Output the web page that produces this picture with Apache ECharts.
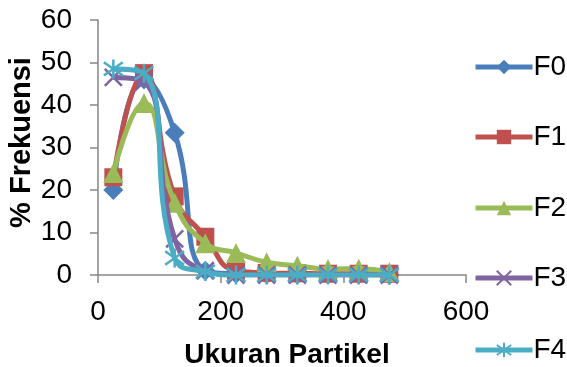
<!DOCTYPE html>
<html><head><meta charset="utf-8">
<script src="https://cdn.jsdelivr.net/npm/echarts@6/dist/echarts.min.js"></script>
<style>html,body{margin:0;padding:0;background:#fff}#c{width:567px;height:367px}</style>
</head><body><div id="c"></div>
<script>
const xValues = [25, 75, 125, 175, 225, 275, 325, 375, 425, 475];
const seriesNames = ['F0', 'F1', 'F2', 'F3', 'F4'];
const F0 = [20, 46, 33.5, 1, 0.3, 0.2, 0.1, 0.1, 0.1, 0];
const F1 = [23, 47.5, 18.5, 9, 1, 0.5, 0.4, 0.3, 0.3, 0.3];
const F2 = [24, 40.5, 17, 7.5, 5.2, 3, 2.2, 1.4, 1.5, 0.7];
const F3 = [46.5, 45.5, 8.5, 1, 0, 0, 0, 0, 0, 0];
const F4 = [48.5, 47.5, 4, 0.8, 0, 0, 0, 0, 0, 0];
const yTicks = [0, 10, 20, 30, 40, 50, 60];
const xTicks = [0, 200, 400, 600];

const values = [F0, F1, F2, F3, F4];
const colors = ['#4A7EBB', '#C0504D', '#9BBB59', '#8064A2', '#4BACC6'];
const symbols = ['diamond', 'rect', 'triangle',
  'path://M0,0L10,10M10,0L0,10',
  'path://M5,0L5,10M1.5,1.5L8.5,8.5M8.5,1.5L1.5,8.5'];
const sizes = [20, 18, 20, 17, 19];
const legendSizes = [18, 18, 18, 18, 18];
const legendTops = [53, 123, 194, 264, 336];
const font = 'Liberation Sans, Arial, sans-serif';

const series = seriesNames.map((n, i) => {
  const stroke = i >= 3;
  return {
    name: n,
    type: 'line',
    smooth: 0.5,
    data: xValues.map((x, j) => [x, values[i][j]]),
    symbol: symbols[i],
    symbolSize: sizes[i],
    lineStyle: { color: colors[i], width: 5 },
    itemStyle: stroke ? { color: colors[i], borderColor: colors[i], borderWidth: 2.5 } : { color: colors[i], borderWidth: 0 },
    z: 2 + i
  };
});

const legends = seriesNames.map((n, i) => ({
  orient: 'vertical', left: 473, top: legendTops[i], padding: 0,
  itemWidth: 57, itemHeight: legendSizes[i], itemGap: 0,
  lineStyle: { width: 5, color: colors[i] },
  textStyle: { fontSize: 28, color: '#000', fontFamily: font, padding: [0, 0, 0, -4] },
  data: [n]
}));

const chart = echarts.init(document.getElementById('c'), null, { renderer: 'canvas' });
chart.setOption({
  animation: false,
  backgroundColor: '#fff',
  grid: { left: 98, right: 101, top: 20, bottom: 92, containLabel: false, outerBoundsMode: 'none' },
  legend: legends,
  xAxis: {
    type: 'value', min: 0, max: 600, interval: 200,
    name: 'Ukuran Partikel', nameLocation: 'middle', nameGap: 66, nameMoveOverlap: false,
    nameTextStyle: { fontSize: 28, fontWeight: 'bold', color: '#000', fontFamily: font, padding: [0, 0, 0, 10] },
    axisLine: { show: true, lineStyle: { color: '#868686', width: 1.5 } },
    axisTick: { show: true, length: 8, lineStyle: { color: '#868686', width: 1.5 } },
    axisLabel: { fontSize: 28, color: '#000', fontFamily: font, margin: 23,
      formatter: v => xTicks.includes(v) ? String(v) : '' },
    splitLine: { show: false }
  },
  yAxis: {
    type: 'value', min: 0, max: 60, interval: 10,
    name: '% Frekuensi', nameLocation: 'middle', nameGap: 62, nameRotate: 90, nameMoveOverlap: false,
    nameTextStyle: { fontSize: 29, fontWeight: 'bold', color: '#000', fontFamily: font, padding: [0, 0, 0, 10] },
    axisLine: { show: true, lineStyle: { color: '#868686', width: 1.5 } },
    axisTick: { show: true, length: 8, lineStyle: { color: '#868686', width: 1.5 } },
    axisLabel: { fontSize: 28, color: '#000', fontFamily: font, margin: 26,
      formatter: v => yTicks.includes(v) ? String(v) : '' },
    splitLine: { show: false }
  },
  series: series
});
</script></body></html>
